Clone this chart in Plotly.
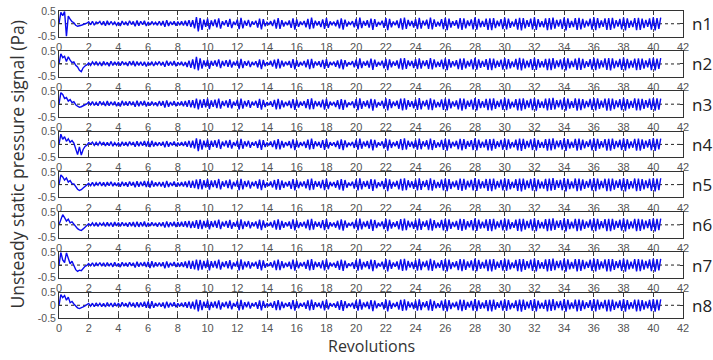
import numpy as np
import plotly.graph_objects as go

# Revolutions covered by each recorded signal
t_start = 0.0
t_end = 40.5

# Signals in hundredths of a Pa, 8 samples per revolution
n1 = [0,45,32,48,-50,30,18,8, 4,-6,-10,-9,-6,-3,-1,2,
      8,-4,10,-6,7,2,9,-5, 10,-8,12,-5,9,-3,7,-6, 6,-9,11,-4,8,-7,12,-3, 9,-10,13,-8,10,-4,12,-9,
      7,-5,9,-3,6,-6,10,-7, 11,-12,14,-9,8,-4,10,-8, 9,-6,10,-7,12,-9,14,-12,
      14,-18,26,-30,22,-24,16,-12, 20,-22,13,-9,17,-14,21,-19,
      10,-6,14,-12,19,-17,8,-5, 16,-21,23,-18,12,-8,15,-13, 9,-4,12,-15,20,-22,18,-10,
      6,-3,10,-9,16,-19,22,-20, 14,-11,8,-6,13,-16,21,-23, 17,-12,9,-5,11,-14,19,-21,
      24,-18,12,-7,10,-13,17,-20, 22,-16,9,-4,8,-10,15,-18, 21,-23,16,-11,6,-3,10,-14,
      19,-22,24,-17,11,-8,14,-15, 20,-24,18,-12,7,-5,12,-16, 22,-25,19,-14,9,-6,13,-17,
      21,-23,24,-20,15,-9,11,-15, 18,-21,23,-19,12,-7,16,-20, 24,-22,17,-12,8,-10,18,-21,
      23,-25,20,-15,10,-8,14,-19, 22,-24,21,-18,13,-9,17,-22, 25,-23,19,-14,11,-12,20,-24,
      21,-25,22,-17,12,-10,18,-21, 24,-22,20,-16,9,-11,19,-23, 23,-26,22,-18,14,-12,20,-22,
      25,-24,18,-13,10,-14,21,-25, 22,-23,24,-19,15,-11,17,-20, 24,-26,21,-16,11,-13,22,-24,
      23,-22,19,-15,12,-10,20,-23, 25,-25,22,-17,13,-12,21,-24, 22,-24,23,-18,14,-11,19,-22,
      24,-26,21,-16,12,-13,22,-25, 23,-24,20,-17,15,-12,21,-23, 25,-26,22,-20,24]
n2 = [0,40,25,30,10,28,15,5, 8,-5,-12,-25,-30,-15,-8,-4,
      4,-6,8,-3,9,-5,6,-8, 10,-5,7,-9,11,-6,8,-4, 9,-7,10,-2,6,-8,11,-5, 12,-9,10,-6,8,-7,9,-10,
      6,-4,9,-8,7,-3,10,-6, 8,-11,13,-7,9,-6,12,-9, 7,-5,9,-8,8,-12,13,-15,
      18,-20,28,-25,22,-18,14,-10, 16,-19,12,-7,14,-10,18,-16,
      12,-8,15,-11,17,-14,9,-6, 14,-18,20,-16,11,-7,13,-12, 8,-5,11,-13,18,-20,16,-9,
      7,-4,12,-10,17,-18,20,-17, 13,-10,9,-5,12,-15,19,-21, 15,-11,8,-6,12,-13,18,-20,
      20,-16,10,-6,11,-12,16,-19, 19,-15,8,-5,9,-11,14,-17, 18,-21,15,-10,7,-4,11,-13,
      17,-20,22,-16,10,-7,13,-14, 21,-23,17,-11,8,-6,13,-17, 20,-24,18,-13,10,-7,14,-18,
      22,-22,23,-19,14,-8,12,-16, 19,-20,22,-18,13,-8,15,-19, 23,-21,18,-13,9,-11,17,-20,
      22,-24,19,-14,11,-9,15,-20, 21,-23,22,-17,12,-10,18,-21, 24,-22,18,-15,12,-11,19,-23,
      22,-24,21,-16,13,-11,17,-22, 23,-21,19,-17,10,-12,20,-22, 24,-25,21,-17,13,-13,19,-23,
      24,-23,19,-14,11,-13,20,-24, 21,-24,23,-18,14,-12,18,-21, 23,-25,22,-17,12,-12,21,-23,
      24,-23,20,-16,11,-11,19,-22, 24,-24,21,-18,14,-13,22,-23, 23,-25,22,-17,13,-12,20,-23,
      25,-25,20,-17,13,-14,21,-24, 22,-23,21,-18,14,-13,22,-24, 24,-25,21,-19,23]
n3 = [0,45,38,22,26,12,18,6, 10,-2,-8,-12,-10,-6,-2,1,
      9,-3,10,-5,7,-6,11,-2, 8,-7,12,-6,9,-4,10,-8, 7,-9,13,-5,10,-6,11,-4, 10,-10,14,-8,11,-5,13,-9,
      8,-6,10,-4,7,-8,12,-6, 12,-13,15,-10,9,-5,12,-8, 8,-5,11,-8,13,-10,16,-12,
      16,-15,22,-20,18,-14,20,-12, 22,-18,15,-10,18,-15,22,-17,
      12,-7,15,-13,20,-16,10,-6, 17,-20,22,-17,13,-9,16,-14, 10,-5,13,-14,21,-21,17,-11,
      8,-4,11,-10,17,-20,21,-19, 15,-12,9,-7,14,-15,20,-22, 18,-13,10,-6,12,-15,20,-20,
      23,-19,13,-8,11,-12,18,-21, 21,-17,10,-5,9,-11,16,-19, 20,-22,17,-12,7,-4,11,-15,
      20,-23,23,-18,12,-9,15,-16, 21,-25,19,-13,8,-6,13,-17, 23,-24,20,-15,10,-7,14,-18,
      22,-24,23,-21,16,-10,12,-16, 19,-22,24,-20,13,-8,17,-21, 23,-23,18,-13,9,-11,19,-22,
      22,-24,21,-16,11,-9,15,-20, 23,-25,22,-19,14,-10,18,-21, 24,-24,20,-15,12,-13,21,-23,
      22,-24,23,-18,13,-11,19,-22, 25,-23,21,-17,10,-12,20,-24, 22,-25,23,-19,15,-13,21,-23,
      24,-25,19,-14,11,-15,22,-24, 23,-22,25,-20,16,-12,18,-21, 25,-25,22,-17,12,-14,23,-25,
      22,-23,20,-16,13,-11,21,-22, 24,-24,23,-18,14,-13,22,-25, 23,-25,22,-19,15,-12,20,-23,
      25,-25,20,-17,13,-14,23,-24, 22,-24,21,-18,16,-13,22,-22, 24,-25,23,-21,22]
n4 = [0,40,20,30,12,22,8,15, 5,-15,-40,-10,-42,-20,-8,-3,
      7,2,9,-4,8,-3,10,-2, 9,-6,8,-5,11,-7,7,-4, 6,-8,10,-5,9,-7,11,-3, 9,-9,12,-7,10,-5,13,-8,
      12,-10,14,-8,9,-6,8,-5, 10,-11,13,-9,8,-4,11,-7, 7,-5,9,-6,11,-9,14,-12,
      15,-16,24,-26,20,-20,15,-11, 19,-21,14,-9,16,-13,20,-18,
      11,-7,15,-12,18,-16,9,-6, 15,-20,22,-17,12,-8,14,-13, 9,-5,12,-14,19,-21,17,-10,
      7,-3,11,-10,16,-19,21,-19, 14,-12,9,-6,13,-15,20,-22, 16,-12,9,-6,11,-14,19,-20,
      23,-18,12,-7,10,-13,17,-21, 21,-16,9,-5,8,-10,15,-18, 20,-22,16,-11,7,-4,10,-14,
      19,-21,23,-17,11,-8,14,-15, 20,-23,18,-12,8,-5,12,-16, 22,-24,19,-14,9,-7,13,-17,
      21,-22,24,-20,15,-9,11,-15, 18,-21,23,-19,12,-8,16,-20, 23,-22,17,-13,8,-10,18,-21,
      22,-24,20,-15,10,-8,14,-19, 22,-23,21,-18,13,-9,17,-22, 24,-23,19,-14,11,-12,20,-23,
      21,-24,22,-17,12,-10,18,-21, 23,-22,20,-16,9,-11,19,-23, 23,-25,22,-18,14,-12,20,-22,
      24,-24,18,-13,10,-14,21,-24, 22,-23,24,-19,15,-11,17,-20, 24,-25,21,-16,11,-13,22,-24,
      23,-22,19,-15,12,-10,20,-23, 24,-25,22,-17,13,-12,21,-24, 22,-24,23,-18,14,-11,19,-22,
      24,-25,21,-16,12,-13,22,-24, 23,-24,20,-17,15,-12,21,-23, 25,-25,22,-20,23]
n5 = [0,38,30,18,26,10,16,4, 3,-8,-18,-23,-20,-13,-7,-2,
      5,-4,9,-6,8,-2,10,-5, 9,-7,10,-4,11,-6,8,-5, 8,-8,11,-5,9,-8,12,-4, 10,-10,13,-8,11,-5,14,-9,
      13,-12,15,-8,9,-6,10,-7, 10,-12,14,-9,8,-5,12,-8, 8,-6,10,-7,12,-10,15,-13,
      15,-14,20,-18,22,-19,17,-12, 21,-20,16,-10,17,-14,22,-19,
      13,-8,16,-14,20,-18,11,-7, 17,-22,23,-19,14,-9,16,-15, 11,-6,14,-16,21,-22,18,-12,
      8,-5,12,-11,18,-20,22,-21, 16,-13,10,-7,14,-17,22,-23, 18,-14,11,-7,13,-15,21,-22,
      24,-20,14,-8,12,-14,19,-22, 23,-18,11,-6,10,-12,17,-20, 22,-24,18,-12,8,-5,12,-16,
      21,-23,25,-19,13,-9,15,-17, 22,-25,20,-14,9,-7,14,-18, 24,-26,21,-16,11,-8,15,-19,
      23,-24,25,-22,17,-11,13,-17, 20,-23,25,-21,14,-9,18,-22, 25,-24,19,-14,10,-12,20,-23,
      24,-26,22,-17,12,-10,16,-21, 24,-25,23,-20,15,-11,19,-23, 26,-25,21,-16,13,-14,22,-25,
      23,-26,24,-19,14,-12,20,-23, 25,-24,22,-18,11,-13,21,-25, 24,-27,24,-20,16,-14,22,-24,
      26,-26,20,-15,12,-16,23,-26, 24,-24,26,-21,17,-13,19,-22, 26,-27,23,-18,13,-15,24,-26,
      24,-24,21,-17,14,-12,22,-24, 26,-26,24,-19,15,-14,23,-26, 24,-26,24,-20,16,-13,21,-24,
      26,-27,22,-18,14,-15,24,-26, 24,-25,22,-19,17,-14,23,-25, 26,-27,24,-22,25]
n6 = [0,20,40,28,15,22,8,12, 2,-6,-15,-20,-22,-16,-8,-3,
      4,-3,8,-5,9,-6,7,-2, 8,-6,10,-5,9,-7,11,-4, 9,-6,10,-4,8,-7,10,-5, 11,-9,12,-8,10,-6,13,-8,
      8,-5,10,-4,8,-7,9,-5, 10,-11,13,-9,10,-5,12,-9, 11,-7,12,-8,14,-10,15,-13,
      13,-12,18,-16,19,-17,15,-11, 19,-18,14,-9,16,-12,20,-17,
      12,-7,15,-12,19,-16,10,-7, 16,-20,21,-17,13,-8,15,-14, 10,-6,13,-15,20,-21,17,-11,
      8,-4,11,-11,17,-19,21,-20, 15,-12,10,-6,13,-16,21,-22, 17,-13,10,-7,12,-14,20,-21,
      23,-19,13,-8,11,-13,18,-21, 22,-17,10,-6,9,-11,16,-19, 21,-23,17,-11,8,-4,11,-15,
      20,-22,24,-18,12,-9,15,-16, 21,-24,19,-13,9,-6,13,-17, 23,-25,20,-15,10,-8,14,-18,
      22,-23,24,-21,16,-10,12,-16, 19,-22,24,-20,13,-8,17,-21, 24,-23,18,-13,9,-11,19,-22,
      23,-25,21,-16,11,-9,15,-20, 23,-24,22,-19,14,-10,18,-22, 25,-24,20,-15,12,-13,21,-24,
      22,-25,23,-18,13,-11,19,-22, 24,-23,21,-17,10,-12,20,-24, 23,-26,23,-19,15,-13,21,-23,
      25,-25,19,-14,11,-15,22,-25, 23,-23,25,-20,16,-12,18,-21, 25,-26,22,-17,12,-14,23,-25,
      23,-23,20,-16,13,-11,21,-23, 25,-25,23,-18,14,-13,22,-25, 23,-25,23,-19,15,-12,20,-23,
      25,-26,21,-17,13,-14,23,-25, 23,-24,21,-18,16,-13,22,-24, 25,-26,23,-21,24]
n7 = [0,50,20,10,48,30,5,15, 0,-18,-25,-20,-22,-12,-5,-1,
      6,-3,9,-5,8,-2,10,-4, 9,-6,10,-4,8,-7,11,-5, 7,-8,11,-4,9,-6,11,-3, 9,-10,13,-7,10,-4,12,-8,
      13,-12,15,-9,11,-6,10,-5, 11,-13,14,-10,9,-4,12,-8, 9,-7,11,-8,14,-12,17,-15,
      16,-17,21,-21,20,-18,16,-12, 20,-21,15,-10,16,-13,21,-18,
      12,-8,15,-13,19,-17,10,-6, 16,-21,22,-18,13,-9,15,-14, 10,-5,13,-15,20,-21,18,-11,
      7,-4,11,-10,17,-20,21,-20, 15,-12,9,-7,13,-16,21,-22, 17,-13,10,-6,12,-15,20,-21,
      23,-19,13,-8,11,-13,18,-21, 22,-17,10,-5,9,-11,16,-19, 21,-23,17,-12,7,-4,11,-15,
      20,-22,24,-18,12,-9,15,-16, 21,-24,19,-13,8,-6,13,-17, 23,-25,20,-15,10,-7,14,-18,
      22,-23,24,-21,16,-10,12,-16, 19,-22,24,-20,13,-8,17,-21, 24,-23,18,-13,9,-11,19,-22,
      23,-25,21,-16,11,-9,15,-20, 23,-24,22,-19,14,-10,18,-22, 25,-24,20,-15,12,-13,21,-24,
      22,-25,23,-18,13,-11,19,-22, 24,-23,21,-17,10,-12,20,-24, 23,-26,23,-19,15,-13,21,-23,
      25,-25,19,-14,11,-15,22,-25, 23,-23,25,-20,16,-12,18,-21, 25,-26,22,-17,12,-14,23,-25,
      23,-23,20,-16,13,-11,21,-23, 25,-25,23,-18,14,-13,22,-25, 23,-25,23,-19,15,-12,20,-23,
      25,-26,21,-17,13,-14,23,-25, 23,-24,21,-18,16,-13,22,-24, 25,-26,23,-21,24]
n8 = [0,42,30,38,20,32,10,15, 5,-4,-10,-13,-11,-6,-2,1,
      7,-4,8,-6,9,-3,8,-5, 8,-7,11,-5,9,-7,10,-4, 9,-7,12,-4,8,-8,13,-5, 10,-9,12,-8,11,-6,14,-10,
      15,-13,16,-10,9,-5,10,-6, 11,-12,14,-9,10,-5,12,-8, 8,-5,10,-7,12,-10,14,-13,
      14,-16,22,-24,20,-19,14,-10, 18,-19,13,-9,15,-12,19,-17,
      11,-7,14,-12,18,-16,9,-6, 15,-20,21,-17,12,-8,14,-13, 9,-5,12,-14,19,-20,17,-10,
      7,-3,10,-10,16,-19,20,-19, 14,-11,9,-6,12,-15,20,-21, 16,-12,9,-6,11,-14,19,-20,
      22,-18,12,-7,10,-12,17,-20, 21,-16,9,-5,8,-10,15,-18, 20,-22,16,-11,7,-4,10,-14,
      19,-21,23,-17,11,-8,14,-15, 20,-23,18,-12,8,-5,12,-16, 22,-24,19,-14,9,-7,13,-17,
      21,-22,23,-20,15,-9,11,-15, 18,-21,23,-19,12,-8,16,-20, 23,-22,17,-12,8,-10,18,-21,
      22,-24,20,-15,10,-8,14,-19, 22,-23,21,-18,13,-9,17,-21, 24,-23,19,-14,11,-12,20,-23,
      21,-24,22,-17,12,-10,18,-21, 23,-22,20,-16,9,-11,19,-23, 22,-25,22,-18,14,-12,20,-22,
      24,-24,18,-13,10,-14,21,-24, 22,-22,24,-19,15,-11,17,-20, 24,-25,21,-16,11,-13,22,-24,
      22,-22,19,-15,12,-10,20,-22, 24,-24,22,-17,13,-12,21,-24, 22,-24,22,-18,14,-11,19,-22,
      24,-25,20,-16,12,-13,22,-24, 22,-23,20,-17,15,-12,21,-23, 24,-25,22,-20,23]

series = [n1, n2, n3, n4, n5, n6, n7, n8]
labels = ["n1", "n2", "n3", "n4", "n5", "n6", "n7", "n8"]
x_ticks = list(range(0, 43, 2))
y_ticks = [-0.5, 0, 0.5]
y_tick_text = ["-0.5", "0", "0.5"]

W, H = 713, 360
ML, MR, MT, MB = 59, 30, 5, 41
PH = H - MT - MB
PITCH = 41.0
PANEL = 26

fig = go.Figure()
layout = dict(
    width=W, height=H,
    margin=dict(l=ML, r=MR, t=MT, b=MB),
    paper_bgcolor="white", plot_bgcolor="white",
    showlegend=False,
    font=dict(family="Liberation Sans, Arial", color="#444"),
)
shapes = []
annotations = []
for k, (vals, lab) in enumerate(zip(series, labels)):
    i = k + 1
    sfx = "" if i == 1 else str(i)
    y = np.array(vals) / 100.0
    x = np.linspace(t_start, t_end, len(y))
    fig.add_trace(go.Scatter(x=x, y=y, mode="lines",
                             line=dict(color="rgb(10,10,240)", width=1.4),
                             xaxis="x" + sfx, yaxis="y" + sfx, hoverinfo="skip"))
    top = min(1.0, 1 - (k * PITCH) / PH)
    bot = max(0.0, top - PANEL / PH)
    layout["xaxis" + sfx] = dict(
        domain=[0, 1], anchor="y" + sfx, range=[0, 42],
        tickvals=x_ticks, ticks="inside", ticklen=4, tickcolor="#333",
        showline=True, linecolor="#333", linewidth=1, mirror="ticks",
        showgrid=True, gridcolor="#555", griddash="dot", gridwidth=1,
        zeroline=False, tickfont=dict(size=11, color="#555"),
    )
    layout["yaxis" + sfx] = dict(
        domain=[bot, top], anchor="x" + sfx, range=[-0.5, 0.5],
        tickvals=y_ticks, ticktext=y_tick_text, ticks="inside", ticklen=3,
        tickcolor="#333", showline=True, linecolor="#333", linewidth=1,
        mirror="ticks", showgrid=False, zeroline=False,
        tickfont=dict(size=10.5, color="#555"),
    )
    shapes.append(dict(type="line", xref="x" + sfx, yref="y" + sfx,
                       x0=0, x1=42, y0=0, y1=0, layer="below",
                       line=dict(color="#222", width=1, dash="dot")))
    annotations.append(dict(text=lab, xref="paper", yref="paper",
                            x=1.012, y=(top + bot) / 2, xanchor="left",
                            yanchor="middle", showarrow=False,
                            font=dict(size=17, color="#222", family="Open Sans")))

annotations.append(dict(text="Unsteady static pressure signal (Pa)", xref="paper",
                        yref="paper", x=-0.068, y=0.5, textangle=-90,
                        xanchor="center", yanchor="middle", showarrow=False,
                        font=dict(size=17.5, color="#333", family="Open Sans")))
annotations.append(dict(text="Revolutions", xref="paper", yref="paper",
                        x=0.5, y=-40.0 / PH, xanchor="center", yanchor="bottom",
                        showarrow=False, borderpad=0,
                        font=dict(size=16, color="#333", family="Open Sans")))
layout["shapes"] = shapes
layout["annotations"] = annotations
fig.update_layout(**layout)
fig.write_html("out.html")
